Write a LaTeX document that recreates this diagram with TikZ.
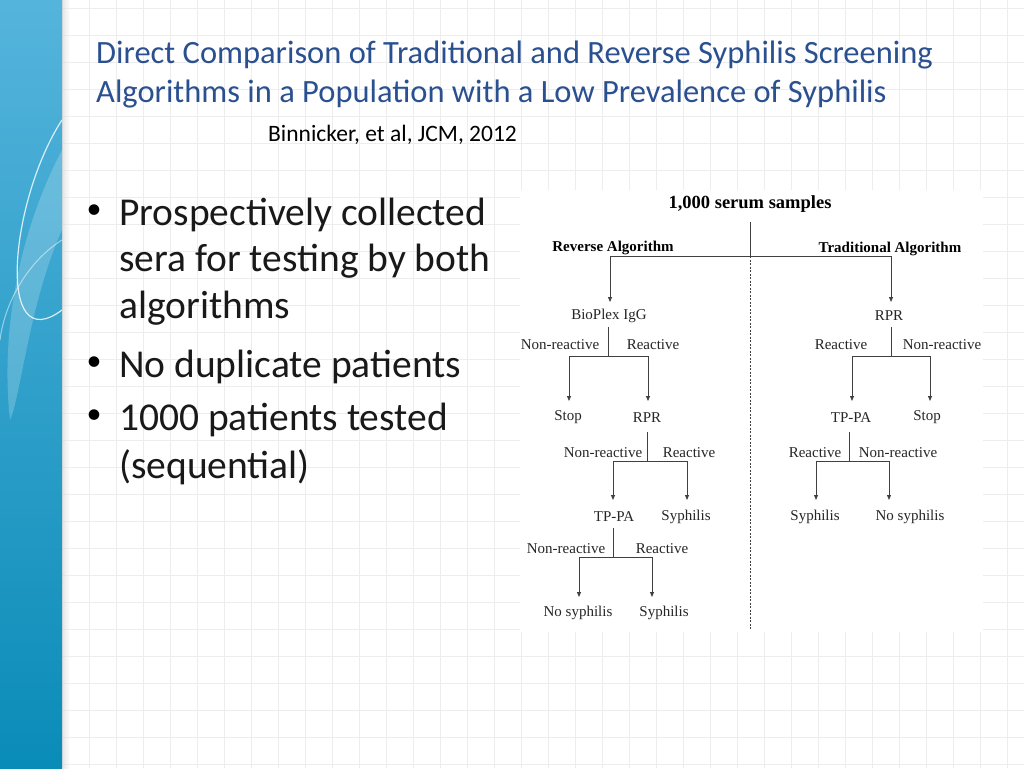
\documentclass[tikz,border=0pt]{standalone}
\usepackage{fontspec}
\setmainfont{Carlito}
\newfontfamily\ser{Liberation Serif}
\usetikzlibrary{arrows.meta}
\begin{document}
\begin{tikzpicture}[x=1pt,y=-1pt,
  fl/.style={font=\ser\fontsize{15}{15}\selectfont,inner sep=0pt,text=black!85,yshift=-1.5pt},
  hd/.style={font=\ser\bfseries\fontsize{15}{15}\selectfont,inner sep=0pt,yshift=-1.5pt},
  ln/.style={draw=black!75,line width=0.8pt},
  ar/.style={ln,-{Triangle[length=5pt,width=4pt]}},
  bl/.style={font=\fontsize{39.5}{44}\selectfont,anchor=west,inner sep=0pt,text=black!90,yshift=-2.5pt},
  ttl/.style={font=\fontsize{32.5}{36}\selectfont,anchor=west,inner sep=0pt,text=ttlc,yshift=-2.5pt}]
\definecolor{ttlc}{HTML}{2A5090}
\definecolor{sbt}{HTML}{55B4DC}
\definecolor{sbb}{HTML}{0A8CB8}
\useasboundingbox (0,0) rectangle (1024,768);
\fill[white] (0,0) rectangle (1024,768);
% grid
\foreach \i in {0,...,38} {\draw[black!7,line width=0.6pt] (62+\i*27,0) -- (62+\i*27,768);}
\foreach \i in {0,...,28} {\draw[black!7,line width=0.6pt] (62,8+\i*27) -- (1024,8+\i*27);}
% sidebar
\shade[top color=sbt, bottom color=sbb] (0,0) rectangle (62,768);
\fill[white,opacity=0.2] (62,150) .. controls (20,230) and (0,330) .. (10,420) .. controls (20,400) and (30,300) .. (62,230) -- cycle;
\draw[white,opacity=0.8,line width=1.2pt] (62,120) .. controls (10,200) and (-5,360) .. (62,310);
\draw[white,opacity=0.5,line width=1pt] (62,240) .. controls (30,260) and (5,300) .. (0,340);
\shade[left color=black!25,right color=white,opacity=0.4] (62,0) rectangle (70,768);
% titles
\node[ttl] (t1) at (96,53) {Direct Comparison of Traditional and Reverse Syphilis Screening};
\node[ttl] (t2) at (96,92) {Algorithms in a Population with a Low Prevalence of Syphilis};
\node[font=\fontsize{23.5}{26}\selectfont,anchor=west,inner sep=0pt,yshift=-2pt] (cit) at (268,133) {Binnicker, et al, JCM, 2012};
% bullets
\node[font=\fontsize{30}{38}\selectfont,inner sep=0pt] (b1) at (94,212) {•};
\node[font=\fontsize{30}{38}\selectfont,inner sep=0pt] (b2) at (94,364) {•};
\node[font=\fontsize{30}{38}\selectfont,inner sep=0pt] (b3) at (94,417) {•};
\node[bl] (l1) at (119,212) {Prospectively collected};
\node[bl] (l2) at (119,259) {sera for testing by both};
\node[bl] (l3) at (119,306) {algorithms};
\node[bl] (l4) at (119,364) {No duplicate patients};
\node[bl] (l5) at (119,417) {1000 patients tested};
\node[bl] (l6) at (119,465) {(sequential)};
% flowchart panel
\fill[white] (520,190) rectangle (983,632);
\node[hd,font=\ser\bfseries\fontsize{18.5}{19}\selectfont] (top) at (750,203) {1,000 serum samples};
\node[hd] (rev) at (613,246) {Reverse Algorithm};
\node[hd] (tra) at (890,247) {Traditional Algorithm};
\coordinate (c0) at (750,222); \coordinate (c1) at (750,256); \coordinate (c2) at (750,630);
\draw[ln] (c0) -- (c1);
\draw[ln,dashed,dash pattern=on 2pt off 1.5pt,line width=0.6pt] (c1) -- (c2);
\coordinate (hl) at (610,256); \coordinate (hr) at (891,256);
\coordinate (al) at (610,302); \coordinate (arr) at (891,302);
\draw[ln] (hl) -- (hr);
\draw[ar] (hl) -- (al); \draw[ar] (hr) -- (arr);
\node[fl] (bio) at (609,314) {BioPlex IgG};
\node[fl] (rpr1) at (889,314) {RPR};
% BioPlex split
\coordinate (a1) at (608,327); \coordinate (a2) at (608,356);
\coordinate (a3) at (569,356); \coordinate (a4) at (648,356);
\coordinate (a5) at (569,401); \coordinate (a6) at (648,401);
\draw[ln] (a1) -- (a2); \draw[ln] (a3) -- (a4);
\draw[ar] (a3) -- (a5); \draw[ar] (a4) -- (a6);
\node[fl] (n1) at (560,343) {Non-reactive};
\node[fl] (r1) at (653,343) {Reactive};
\node[fl] (stop1) at (568,416) {Stop};
\node[fl] (rpr2) at (647,416) {RPR};
% RPR split
\coordinate (b1a) at (647,432); \coordinate (b2a) at (647,461);
\coordinate (b3a) at (613,461); \coordinate (b4a) at (687,461);
\coordinate (b5a) at (613,500); \coordinate (b6a) at (687,500);
\draw[ln] (b1a) -- (b2a); \draw[ln] (b3a) -- (b4a);
\draw[ar] (b3a) -- (b5a); \draw[ar] (b4a) -- (b6a);
\node[fl] (n2) at (603,451) {Non-reactive};
\node[fl] (r2) at (689,451) {Reactive};
\node[fl] (tp1) at (614,515) {TP-PA};
\node[fl] (sy1) at (686,515) {Syphilis};
% TP-PA split left
\coordinate (d1) at (613,528); \coordinate (d2) at (613,557);
\coordinate (d3) at (579,557); \coordinate (d4) at (652,557);
\coordinate (d5) at (579,597); \coordinate (d6) at (652,597);
\draw[ln] (d1) -- (d2); \draw[ln] (d3) -- (d4);
\draw[ar] (d3) -- (d5); \draw[ar] (d4) -- (d6);
\node[fl] (n3) at (566,547) {Non-reactive};
\node[fl] (r3) at (662,547) {Reactive};
\node[fl] (ns1) at (578,611) {No syphilis};
\node[fl] (sy2) at (664,611) {Syphilis};
% right RPR split
\coordinate (e1) at (891,327); \coordinate (e2) at (891,356);
\coordinate (e3) at (852,356); \coordinate (e4) at (930,356);
\coordinate (e5) at (852,401); \coordinate (e6) at (930,401);
\draw[ln] (e1) -- (e2); \draw[ln] (e3) -- (e4);
\draw[ar] (e3) -- (e5); \draw[ar] (e4) -- (e6);
\node[fl] (r4) at (841,343) {Reactive};
\node[fl] (n4) at (942,343) {Non-reactive};
\node[fl] (tp2) at (851,416) {TP-PA};
\node[fl] (stop2) at (927,416) {Stop};
% right TP-PA split
\coordinate (f1) at (849,432); \coordinate (f2) at (849,461);
\coordinate (f3) at (816,461); \coordinate (f4) at (889,461);
\coordinate (f5) at (816,500); \coordinate (f6) at (889,500);
\draw[ln] (f1) -- (f2); \draw[ln] (f3) -- (f4);
\draw[ar] (f3) -- (f5); \draw[ar] (f4) -- (f6);
\node[fl] (r5) at (815,451) {Reactive};
\node[fl] (n5) at (898,451) {Non-reactive};
\node[fl] (sy3) at (815,515) {Syphilis};
\node[fl] (ns2) at (910,515) {No syphilis};
\end{tikzpicture}
\end{document}
